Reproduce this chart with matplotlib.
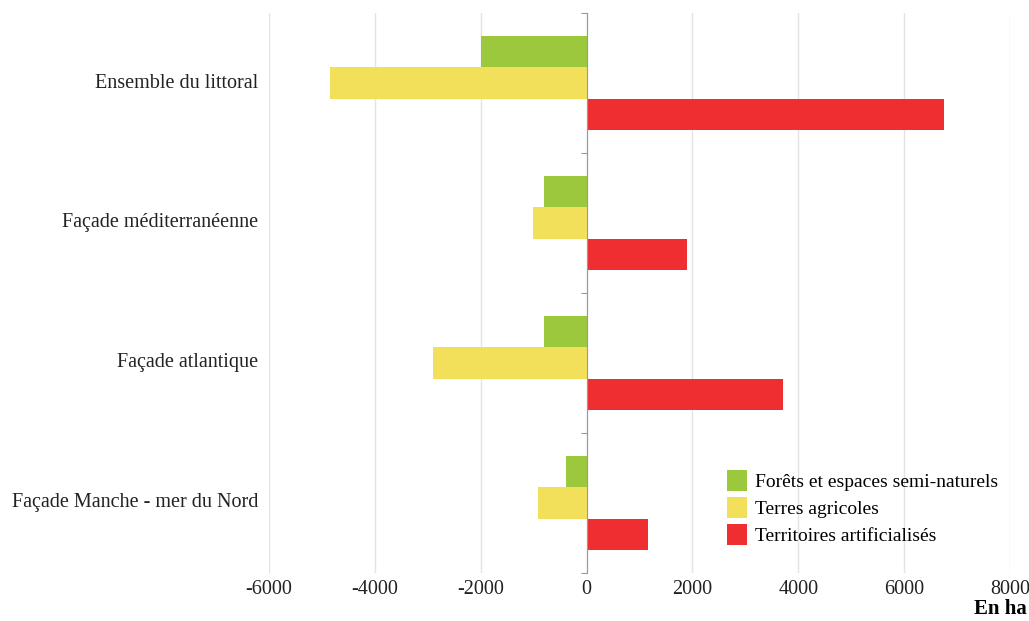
import matplotlib.pyplot as plt
from matplotlib.transforms import blended_transform_factory
from matplotlib.patches import Patch
import numpy as np

plt.rcParams['font.family'] = ['Liberation Serif', 'DejaVu Serif']

categories = ["Ensemble du littoral", "Façade méditerranéenne",
              "Façade atlantique", "Façade Manche - mer du Nord"]
forets = [-2000, -800, -800, -390]
terres = [-4840, -1010, -2900, -920]
artif = [6760, 1900, 3720, 1160]
series_names = ["Forêts et espaces semi-naturels", "Terres agricoles",
                "Territoires artificialisés"]
colors = ["#9bc83d", "#f2e05a", "#ee2e31"]
xticks = [-6000, -4000, -2000, 0, 2000, 4000, 6000, 8000]

fig = plt.figure(figsize=(10.29, 6.21), dpi=100)
ax = fig.add_axes([269/1029, 48/621, 741/1029, 560/621])

y = np.arange(len(categories))
h = 0.222
for vals, off, c in zip([forets, terres, artif], [-h, 0, h], colors):
    ax.barh(y + off, vals, height=h, color=c, edgecolor='none', zorder=3)

ax.set_xlim(-6000, 8000)
ax.set_ylim(3.5, -0.5)
ax.set_xticks(xticks)
ax.set_xticklabels([str(t) for t in xticks], fontsize=14.5)
ax.tick_params(axis='x', length=0, pad=5, colors='#222222')
ax.grid(axis='x', color='#e3e3e3', linewidth=1, zorder=0)

for s in ['top', 'right', 'bottom']:
    ax.spines[s].set_visible(False)
ax.spines['left'].set_position(('data', 0))
ax.spines['left'].set_color('#9a9a9a')
ax.spines['left'].set_zorder(4)
ax.set_yticks(np.arange(-0.5, len(categories), 1.0))
ax.set_yticklabels([])
ax.tick_params(axis='y', length=4, color='#9a9a9a')

tr = blended_transform_factory(ax.transAxes, ax.transData)
for yi, lab in zip(y, categories):
    ax.text(-0.015, yi, lab, transform=tr, ha='right', va='center',
            fontsize=14.5, color='#222222')

handles = [Patch(facecolor=c, edgecolor='none') for c in colors]
fig.legend(handles, series_names, loc='upper left',
           bbox_to_anchor=(709/1029, 1 - 452/621), frameon=False,
           fontsize=14, handlelength=1.05, handleheight=1.3,
           handletextpad=0.4, labelspacing=0.3)

fig.text(1027/1029, 1 - 609/621, "En ha", ha='right', va='center',
         fontsize=15, fontweight='bold')

fig.savefig('out.png', dpi=100, facecolor='white')
